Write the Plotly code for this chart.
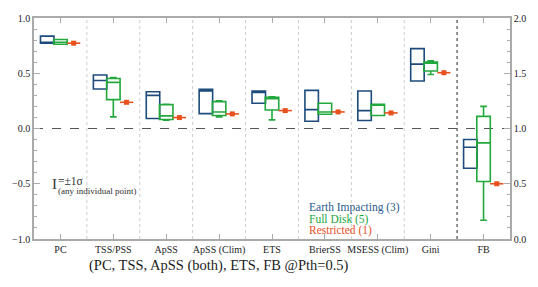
import plotly.graph_objects as go

categories = ["PC", "TSS/PSS", "ApSS", "ApSS (Clim)", "ETS", "BrierSS", "MSESS (Clim)", "Gini", "FB"]

# Earth Impacting (3): box spans min..max, median inside (FB on right axis)
ei_low = [0.772, 0.358, 0.090, 0.135, 0.228, 0.066, 0.072, 0.430, 0.64]
ei_med = [0.780, 0.435, 0.300, 0.339, 0.327, 0.171, 0.162, 0.583, 0.83]
ei_high = [0.836, 0.484, 0.333, 0.354, 0.339, 0.345, 0.339, 0.723, 0.90]

# Full Disk (5)
fd_min = [0.763, 0.105, 0.075, 0.105, 0.078, 0.129, 0.117, 0.489, 0.17]
fd_q1 = [0.763, 0.261, 0.081, 0.117, 0.168, 0.129, 0.117, 0.520, 0.52]
fd_med = [0.780, 0.417, 0.114, 0.150, 0.270, 0.150, 0.219, 0.590, 0.87]
fd_q3 = [0.805, 0.453, 0.216, 0.243, 0.282, 0.228, 0.219, 0.601, 1.11]
fd_max = [0.805, 0.460, 0.220, 0.250, 0.288, 0.228, 0.219, 0.613, 1.20]

# Restricted (1)
rs_val = [0.772, 0.237, 0.099, 0.132, 0.162, 0.150, 0.141, 0.505, 0.50]

BLUE = "#1d4b7b"
GREEN = "#22a83c"
RED = "#e8501e"
FONT = "Liberation Serif, Times New Roman, Times, DejaVu Serif, serif"

n = len(categories)
left_idx = list(range(n - 1))
fb = n - 1
off = 0.25
bw = 0.255

fig = go.Figure()


def add_box(xs, low, q1, med, q3, high, color, yaxis):
    fig.add_trace(go.Box(
        x=xs, q1=q1, median=med, q3=q3, lowerfence=low, upperfence=high,
        width=bw, whiskerwidth=0.5, line=dict(color=color, width=1.6),
        fillcolor="rgba(0,0,0,0)", boxpoints=False, showlegend=False,
        hoverinfo="skip", yaxis=yaxis))


# Earth Impacting
add_box([i - off for i in left_idx], [ei_low[i] for i in left_idx], [ei_low[i] for i in left_idx],
        [ei_med[i] for i in left_idx], [ei_high[i] for i in left_idx], [ei_high[i] for i in left_idx],
        BLUE, "y")
add_box([fb - off], [ei_low[fb]], [ei_low[fb]], [ei_med[fb]], [ei_high[fb]], [ei_high[fb]], BLUE, "y2")

# Full Disk
add_box([i for i in left_idx], [fd_min[i] for i in left_idx], [fd_q1[i] for i in left_idx],
        [fd_med[i] for i in left_idx], [fd_q3[i] for i in left_idx], [fd_max[i] for i in left_idx],
        GREEN, "y")
add_box([fb], [fd_min[fb]], [fd_q1[fb]], [fd_med[fb]], [fd_q3[fb]], [fd_max[fb]], GREEN, "y2")

# Restricted
for xs, ys, ya in [([i + off for i in left_idx], [rs_val[i] for i in left_idx], "y"),
                   ([fb + off], [rs_val[fb]], "y2")]:
    fig.add_trace(go.Scatter(
        x=xs, y=ys, mode="markers", yaxis=ya, showlegend=False, hoverinfo="skip",
        marker=dict(symbol="square", size=5, color=RED),
        error_x=dict(type="constant", value=0.125, width=0, thickness=1.6, color=RED)))

# Dividers between categories
shapes = []
for i in range(n - 1):
    last = (i == n - 2)
    shapes.append(dict(type="line", xref="x", yref="paper", x0=i + 0.5, x1=i + 0.5, y0=0, y1=1,
                       line=dict(color="#777777" if last else "#cccccc",
                                 width=1.6 if last else 1, dash="dot"), layer="below"))
shapes.append(dict(type="line", xref="paper", yref="y", x0=0, x1=1, y0=0, y1=0,
                   line=dict(color="#555555", width=1, dash="dash"), layer="below"))

annotations = [
    dict(text="Earth Impacting (3)", x=0.573, y=0.1435, xref="paper", yref="paper", xanchor="left",
         yanchor="middle", showarrow=False, font=dict(family=FONT, size=11.5, color="#2a5a8c")),
    dict(text="Full Disk (5)", x=0.573, y=0.0897, xref="paper", yref="paper", xanchor="left",
         yanchor="middle", showarrow=False, font=dict(family=FONT, size=11.5, color=GREEN)),
    dict(text="Restricted (1)", x=0.573, y=0.0404, xref="paper", yref="paper", xanchor="left",
         yanchor="middle", showarrow=False, font=dict(family=FONT, size=11.5, color=RED)),
    dict(text="I", x=0.0427, y=0.251, xref="paper", yref="paper", xanchor="center", yanchor="middle",
         showarrow=False, font=dict(family=FONT, size=15, color="#333333")),
    dict(text="=±1σ", x=0.0467, y=0.263, xref="paper", yref="paper", xanchor="left", yanchor="middle",
         showarrow=False, font=dict(family=FONT, size=11.5, color="#333333")),
    dict(text="(any individual point)", x=0.0467, y=0.219, xref="paper", yref="paper", xanchor="left",
         yanchor="middle", showarrow=False, font=dict(family=FONT, size=9, color="#333333")),
    dict(text="(PC, TSS, ApSS (both), ETS, FB @Pth=0.5)", x=0.112, y=-0.121, xref="paper", yref="paper",
         xanchor="left", yanchor="middle", showarrow=False,
         font=dict(family=FONT, size=14.5, color="#222222")),
]

axis_line = "#aaaaaa"
fig.update_layout(
    width=538, height=287,
    margin=dict(l=25, r=21, t=16, b=48),
    paper_bgcolor="white", plot_bgcolor="white",
    boxmode="overlay",
    showlegend=False,
    font=dict(family=FONT, size=10, color="#333333"),
    shapes=shapes, annotations=annotations,
    xaxis=dict(range=[-0.5, n - 0.5], tickvals=list(range(n)), ticktext=categories,
               ticks="inside", ticklen=5, tickcolor=axis_line, showgrid=False, zeroline=False,
               showline=True, linecolor=axis_line, linewidth=1.5, mirror="ticks",
               tickfont=dict(family=FONT, size=10, color="#222222")),
    yaxis=dict(range=[-1.0, 1.0], tickvals=[-1.0, -0.5, 0.0, 0.5, 1.0],
               ticktext=["−1.0", "−0.5", "0.0", "0.5", "1.0"],
               ticks="inside", ticklen=6, tickcolor=axis_line, showgrid=False, zeroline=False,
               showline=True, linecolor=axis_line, linewidth=1.5,
               minor=dict(dtick=0.1, ticks="inside", ticklen=3, tickcolor=axis_line),
               tickfont=dict(family=FONT, size=10, color="#222222")),
    yaxis2=dict(range=[0.0, 2.0], tickvals=[0.0, 0.5, 1.0, 1.5, 2.0],
                ticktext=["0.0", "0.5", "1.0", "1.5", "2.0"], overlaying="y", side="right",
                ticks="inside", ticklen=6, tickcolor=axis_line, showgrid=False, zeroline=False,
                showline=True, linecolor=axis_line, linewidth=1.5,
                minor=dict(dtick=0.1, ticks="inside", ticklen=3, tickcolor=axis_line),
                tickfont=dict(family=FONT, size=10, color="#222222")),
)

fig.write_html("out.html", config={"displayModeBar": False},
               post_script="document.body.style.margin='0';")
